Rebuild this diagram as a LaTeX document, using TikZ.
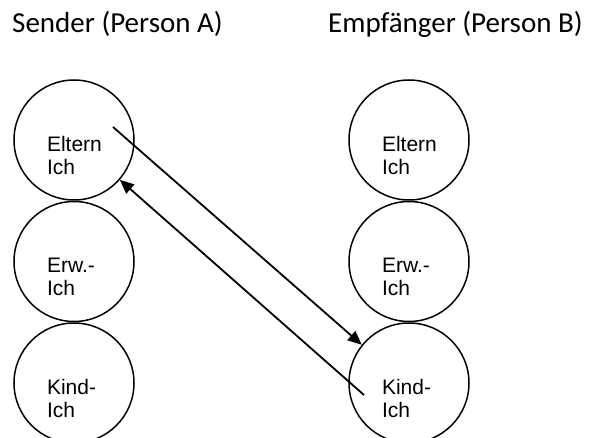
\documentclass[tikz,border=0pt]{standalone}
\usepackage{fontspec}
\usepackage{tikz}
\usetikzlibrary{arrows.meta,positioning,calc}
\newfontfamily\titelfont{Carlito}
\newfontfamily\ichfont{Liberation Sans}

\begin{document}
\begin{tikzpicture}[x=1pt, y=1pt,
  ich/.style={circle, draw, line width=1.5pt, minimum size=120pt, inner sep=0pt,
    label={[ichtext]center:#1}},
  ichtext/.style={text width=54pt, align=left, inner sep=0pt, yshift=-15pt,
    font=\ichfont\fontsize{21}{23}\selectfont},
  titel/.style={anchor=base west, inner sep=0pt, font=\titelfont\fontsize{29}{34}\selectfont},
  pfeil/.style={line width=1.8pt, -{Triangle[length=14pt, width=12pt]}}]
\useasboundingbox (0,0) rectangle (590,-438);
\node[titel] (sender) at (12,-33) {Sender (Person A)};
\node[titel] (empf) at (328,-33) {Empfänger (Person B)};
\node[ich={Eltern\\Ich}] (elternA) at (74,-140) {};
\node[ich={Erw.-\\Ich}, below=0pt of elternA] (erwA) {};
\node[ich={Kind-\\Ich}, below=0pt of erwA] (kindA) {};
\node[ich={Eltern\\Ich}] (elternB) at (409,-140) {};
\node[ich={Erw.-\\Ich}, below=0pt of elternB] (erwB) {};
\node[ich={Kind-\\Ich}, below=0pt of erwB] (kindB) {};
\coordinate (startA) at ($(elternA.center)+(39,13)$);
\coordinate (startB) at ($(kindB.center)+(-45,-12)$);
\draw[pfeil] (startA) -- (kindB.141.8);
\draw[pfeil] (startB) -- (elternA.-41.5);
\end{tikzpicture}
\end{document}
